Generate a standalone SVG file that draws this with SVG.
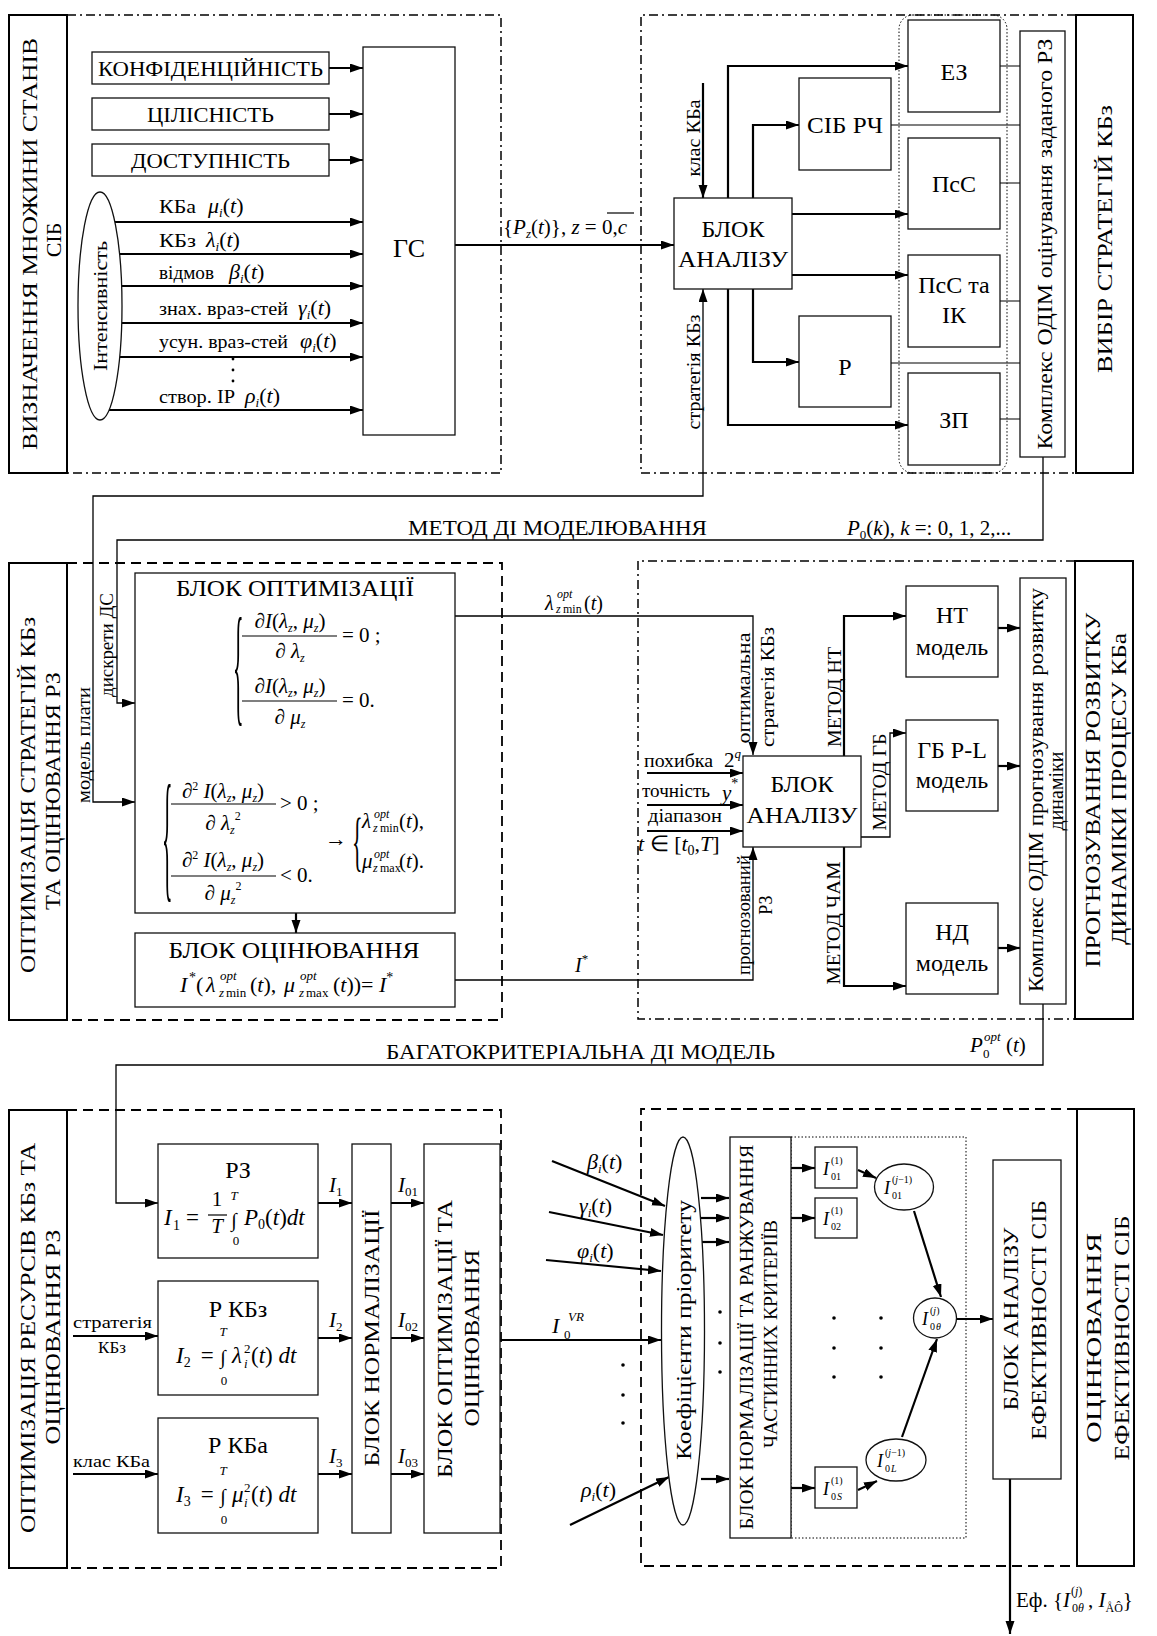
<svg xmlns="http://www.w3.org/2000/svg" width="1157" height="1636" viewBox="0 0 1157 1636">
<defs>
<marker id="ah" markerUnits="userSpaceOnUse" markerWidth="14" markerHeight="10" refX="13" refY="4.5" orient="auto-start-reverse" viewBox="0 0 14 10"><path d="M0,0 L13,4.5 L0,9 z" fill="#000"/></marker>
<style>
text{font-family:"Liberation Serif","Times New Roman",serif;fill:#000}
.it{font-style:italic}
.b{fill:#fff;stroke:#111;stroke-width:1.3}
.tb{fill:#fff;stroke:#000;stroke-width:2}
.dd{fill:none;stroke:#000;stroke-width:1.5;stroke-dasharray:9 4 2 4}
.ds{fill:none;stroke:#000;stroke-width:1.8;stroke-dasharray:10 6}
.dt{fill:none;stroke:#000;stroke-width:1;stroke-dasharray:1.5 2}
.a{fill:none;stroke:#000;stroke-width:2.2;marker-end:url(#ah)}
.at{fill:none;stroke:#000;stroke-width:1.3;marker-end:url(#ah)}
.l{fill:none;stroke:#000;stroke-width:1.2}
.dot{fill:#000}
</style>
</defs>
<rect width="1157" height="1636" fill="#fff"/>

<g id="frames">
<path class="dd" d="M67,15 H501 V473 H67"/>
<path class="dd" d="M1076,15 H641 V473 H1076"/>
<path class="ds" d="M67,563 H502 V1020 H67"/>
<path class="dd" d="M1075,561 H638 V1019 H1075"/>
<path class="ds" d="M67,1110 H501 V1568 H67"/>
<path class="ds" d="M1077,1109 H641 V1566 H1077"/>
<rect class="dt" x="899" y="15" width="108" height="458" rx="14"/>
<rect class="dt" x="791" y="1137" width="175" height="401"/>
</g>

<g id="connectors">
<path class="a" d="M329,68 H363"/>
<path class="a" d="M329,114 H363"/>
<path class="a" d="M329,160 H363"/>
<path class="a" d="M115,222 H363"/>
<path class="a" d="M120,254 H363"/>
<path class="a" d="M122,286 H363"/>
<path class="a" d="M122,323 H363"/>
<path class="a" d="M120,357 H363"/>
<path class="a" d="M109,410 H363"/>
<path class="a" d="M455,245 H674"/>
<path class="a" d="M703,83 V198"/>
<path class="at" style="marker-start:url(#ah)" d="M135,802 H93 V496 H703 V289"/>
<path class="at" d="M1043,457 V540 H117 V703 H135"/>
<path class="a" d="M728,198 V66 H908"/>
<path class="a" d="M753,198 V125 H799"/>
<path class="a" d="M792,214 H908"/>
<path class="a" d="M792,275 H908"/>
<path class="a" d="M753,289 V362 H799"/>
<path class="a" d="M728,289 V425 H908"/>
<path class="l" d="M1000,66 H1020 M891,125 H1020 M1000,183 H1020 M1000,301 H1020 M891,363 H1020 M1000,419 H1020"/>
<path class="at" d="M455,616 H753 V755"/>
<path class="at" d="M455,980 H753 V847"/>
<path class="a" d="M296,913 V933"/>
<path class="a" d="M647,773 H743"/>
<path class="a" d="M647,805 H743"/>
<path class="a" d="M647,831 H743"/>
<path class="a" d="M844,756 V616 H906"/>
<path class="at" d="M861,837 H890 V733 H906"/>
<path class="a" d="M844,847 V986 H906"/>
<path class="a" d="M998,628 H1020"/>
<path class="a" d="M998,766 H1020"/>
<path class="a" d="M998,948 H1020"/>
<path class="at" d="M1043,1004 V1065 H116 V1203 H158"/>
<path class="a" d="M73,1336 H158"/>
<path class="a" d="M73,1474 H158"/>
<path class="a" d="M318,1203 H352"/>
<path class="a" d="M318,1338 H352"/>
<path class="a" d="M318,1474 H352"/>
<path class="a" d="M391,1203 H424"/>
<path class="a" d="M391,1338 H424"/>
<path class="a" d="M391,1474 H424"/>
<path class="a" d="M500,1340 H661"/>
<path class="a" d="M552,1161 L665,1206"/>
<path class="a" d="M549,1212 L663,1235"/>
<path class="a" d="M546,1260 L661,1271"/>
<path class="a" d="M570,1525 L669,1477"/>
<path class="a" d="M701,1198 H729"/>
<path class="a" d="M701,1218 H729"/>
<path class="a" d="M701,1242 H729"/>
<path class="a" d="M701,1479 H729"/>
<path class="a" d="M791,1168 H815"/>
<path class="a" d="M791,1218 H815"/>
<path class="a" d="M791,1488 H815"/>
<path class="a" d="M858,1170 L876,1178"/>
<path class="a" d="M858,1490 L877,1481"/>
<path class="a" d="M914,1211 L941,1297"/>
<path class="a" d="M902,1437 L937,1339"/>
<path class="a" d="M956,1319 H993"/>
<path class="a" d="M1010,1479 V1634"/>
</g>

<g id="n-title-states"><rect class="tb" x="9" y="15" width="58" height="458"/>
<text transform="translate(37,244) rotate(-90)" text-anchor="middle" font-size="22" textLength="412" lengthAdjust="spacingAndGlyphs">ВИЗНАЧЕННЯ МНОЖИНИ СТАНІВ</text>
<text transform="translate(61,240) rotate(-90)" text-anchor="middle" font-size="22">СІБ</text></g>
<g id="n-konf"><rect class="b" x="92" y="52" width="237" height="32"/><text x="210.5" y="76" text-anchor="middle" font-size="22" textLength="225" lengthAdjust="spacingAndGlyphs">КОНФІДЕНЦІЙНІСТЬ</text></g>
<g id="n-cil"><rect class="b" x="92" y="98" width="237" height="32"/><text x="210.5" y="122" text-anchor="middle" font-size="22" textLength="127" lengthAdjust="spacingAndGlyphs">ЦІЛІСНІСТЬ</text></g>
<g id="n-dost"><rect class="b" x="92" y="144" width="237" height="32"/><text x="210.5" y="168" text-anchor="middle" font-size="22" textLength="159" lengthAdjust="spacingAndGlyphs">ДОСТУПНІСТЬ</text></g>
<g id="n-gs"><rect class="b" x="363" y="47" width="92" height="388"/><text x="409" y="257" text-anchor="middle" font-size="26">ГС</text></g>
<g id="n-intens"><ellipse class="b" cx="100" cy="306" rx="22" ry="114"/><text transform="translate(107,306) rotate(-90)" text-anchor="middle" font-size="19" textLength="130" lengthAdjust="spacingAndGlyphs">Інтенсивність</text></g>

<g id="labels-top" font-size="19">
<text x="159" y="213" textLength="37" lengthAdjust="spacingAndGlyphs">КБа</text>
<text x="208" y="213" font-size="22"><tspan class="it">μ</tspan><tspan class="it" font-size="13" dy="4">i</tspan><tspan dy="-4">(</tspan><tspan class="it">t</tspan>)</text>
<text x="159" y="247" textLength="37" lengthAdjust="spacingAndGlyphs">КБз</text>
<text x="206" y="247" font-size="22"><tspan class="it">λ</tspan><tspan class="it" font-size="13" dy="4">i</tspan><tspan dy="-4">(</tspan><tspan class="it">t</tspan>)</text>
<text x="159" y="279" textLength="55" lengthAdjust="spacingAndGlyphs">відмов</text>
<text x="229" y="279" font-size="22"><tspan class="it">β</tspan><tspan class="it" font-size="13" dy="4">i</tspan><tspan dy="-4">(</tspan><tspan class="it">t</tspan>)</text>
<text x="159" y="315" textLength="129" lengthAdjust="spacingAndGlyphs">знах. враз-стей</text>
<text x="298" y="315" font-size="22"><tspan class="it">γ</tspan><tspan class="it" font-size="13" dy="4">i</tspan><tspan dy="-4">(</tspan><tspan class="it">t</tspan>)</text>
<text x="159" y="348" textLength="129" lengthAdjust="spacingAndGlyphs">усун. враз-стей</text>
<text x="300" y="348" font-size="22"><tspan class="it">φ</tspan><tspan class="it" font-size="13" dy="4">i</tspan><tspan dy="-4">(</tspan><tspan class="it">t</tspan>)</text>
<circle class="dot" cx="233" cy="359" r="1.4"/><circle class="dot" cx="233" cy="370" r="1.4"/><circle class="dot" cx="233" cy="381" r="1.4"/>
<text x="159" y="403" textLength="76" lengthAdjust="spacingAndGlyphs">створ. ІР</text>
<text x="245" y="403" font-size="22"><tspan class="it">ρ</tspan><tspan class="it" font-size="13" dy="4">i</tspan><tspan dy="-4">(</tspan><tspan class="it">t</tspan>)</text>
<text x="503" y="234" font-size="21">{<tspan class="it">P</tspan><tspan class="it" font-size="13" dy="4">z</tspan><tspan dy="-4">(</tspan><tspan class="it">t</tspan>)}, <tspan class="it">z</tspan> = 0,<tspan class="it">c</tspan></text>
<line class="l" x1="607" y1="213" x2="634" y2="213"/>
<text transform="translate(700,138) rotate(-90)" text-anchor="middle" font-size="18" textLength="77" lengthAdjust="spacingAndGlyphs">клас КБа</text>
<text transform="translate(700,372) rotate(-90)" text-anchor="middle" font-size="18" textLength="115" lengthAdjust="spacingAndGlyphs">стратегія КБз</text>
</g>

<g id="n-blok1"><rect class="b" x="674" y="198" width="118" height="91"/><text x="733" y="237" text-anchor="middle" font-size="24">БЛОК</text><text x="733" y="267" text-anchor="middle" font-size="24" textLength="110" lengthAdjust="spacingAndGlyphs">АНАЛІЗУ</text></g>
<g id="n-ez"><rect class="b" x="908" y="20" width="92" height="92"/><text x="954" y="80" text-anchor="middle" font-size="24">ЕЗ</text></g>
<g id="n-sibrch"><rect class="b" x="799" y="78" width="92" height="92"/><text x="845" y="133" text-anchor="middle" font-size="24" textLength="76" lengthAdjust="spacingAndGlyphs">СІБ РЧ</text></g>
<g id="n-psc"><rect class="b" x="908" y="138" width="92" height="91"/><text x="954" y="192" text-anchor="middle" font-size="24">ПсС</text></g>
<g id="n-pscik"><rect class="b" x="908" y="255" width="92" height="92"/><text x="954" y="293" text-anchor="middle" font-size="24">ПсС та</text><text x="954" y="323" text-anchor="middle" font-size="24">ІК</text></g>
<g id="n-r"><rect class="b" x="799" y="316" width="92" height="91"/><text x="845" y="375" text-anchor="middle" font-size="24">Р</text></g>
<g id="n-zp"><rect class="b" x="908" y="373" width="92" height="92"/><text x="954" y="428" text-anchor="middle" font-size="24">ЗП</text></g>
<g id="n-kompl1"><rect class="b" x="1020" y="31" width="45" height="426"/><text transform="translate(1052,244) rotate(-90)" text-anchor="middle" font-size="21" textLength="411" lengthAdjust="spacingAndGlyphs">Комплекс ОДІМ оцінування заданого РЗ</text></g>
<g id="n-title-strat"><rect class="tb" x="1076" y="15" width="57" height="458"/><text transform="translate(1112,239) rotate(-90)" text-anchor="middle" font-size="22" textLength="268" lengthAdjust="spacingAndGlyphs">ВИБІР СТРАТЕГІЙ КБз</text></g>

<g id="labels-mid1" font-size="21">
<text x="408" y="535" textLength="299" lengthAdjust="spacingAndGlyphs">МЕТОД ДІ МОДЕЛЮВАННЯ</text>
<text x="847" y="535"><tspan class="it">P</tspan><tspan font-size="13" dy="4">0</tspan><tspan dy="-4">(</tspan><tspan class="it">k</tspan>),  <tspan class="it">k</tspan> =: 0, 1, 2,...</text>
<text transform="translate(113,645) rotate(-90)" text-anchor="middle" font-size="18" textLength="104" lengthAdjust="spacingAndGlyphs">дискрети ДС</text>
<text transform="translate(90,745) rotate(-90)" text-anchor="middle" font-size="18" textLength="116" lengthAdjust="spacingAndGlyphs">модель плати</text>
</g>

<g id="n-title-opt"><rect class="tb" x="9" y="563" width="58" height="457"/>
<text transform="translate(35,795) rotate(-90)" text-anchor="middle" font-size="22" textLength="356" lengthAdjust="spacingAndGlyphs">ОПТИМІЗАЦІЯ СТРАТЕГІЙ КБз</text>
<text transform="translate(60,791) rotate(-90)" text-anchor="middle" font-size="22" textLength="238" lengthAdjust="spacingAndGlyphs">ТА ОЦІНЮВАННЯ РЗ</text></g>

<g id="n-blokopt"><rect class="b" x="135" y="573" width="320" height="340"/>
<text x="295" y="596" text-anchor="middle" font-size="24" textLength="238" lengthAdjust="spacingAndGlyphs">БЛОК ОПТИМІЗАЦІЇ</text>
<text transform="translate(233,708) scale(1,6)" font-size="22">{</text>
<text x="290" y="628" text-anchor="middle" font-size="21"><tspan class="it">∂I</tspan>(<tspan class="it">λ</tspan><tspan class="it" font-size="12" dy="4">z</tspan><tspan dy="-4">, </tspan><tspan class="it">μ</tspan><tspan class="it" font-size="12" dy="4">z</tspan><tspan dy="-4">)</tspan></text>
<line class="l" x1="242" y1="636" x2="337" y2="636"/>
<text x="290" y="658" text-anchor="middle" font-size="21"><tspan class="it">∂ λ</tspan><tspan class="it" font-size="12" dy="4">z</tspan></text>
<text x="342" y="642" font-size="21">= 0 ;</text>
<text x="290" y="693" text-anchor="middle" font-size="21"><tspan class="it">∂I</tspan>(<tspan class="it">λ</tspan><tspan class="it" font-size="12" dy="4">z</tspan><tspan dy="-4">, </tspan><tspan class="it">μ</tspan><tspan class="it" font-size="12" dy="4">z</tspan><tspan dy="-4">)</tspan></text>
<line class="l" x1="242" y1="701" x2="337" y2="701"/>
<text x="290" y="724" text-anchor="middle" font-size="21"><tspan class="it">∂ μ</tspan><tspan class="it" font-size="12" dy="4">z</tspan></text>
<text x="342" y="707" font-size="21">= 0.</text>
<text transform="translate(162,883) scale(1,6.5)" font-size="22">{</text>
<text x="223" y="798" text-anchor="middle" font-size="21"><tspan class="it">∂</tspan><tspan font-size="12" dy="-8">2</tspan><tspan class="it" dy="8"> I</tspan>(<tspan class="it">λ</tspan><tspan class="it" font-size="12" dy="4">z</tspan><tspan dy="-4">, </tspan><tspan class="it">μ</tspan><tspan class="it" font-size="12" dy="4">z</tspan><tspan dy="-4">)</tspan></text>
<line class="l" x1="171" y1="804" x2="276" y2="804"/>
<text x="223" y="830" text-anchor="middle" font-size="21"><tspan class="it">∂ λ</tspan><tspan class="it" font-size="12" dy="4">z</tspan><tspan font-size="12" dy="-14">2</tspan></text>
<text x="280" y="810" font-size="21">&gt; 0 ;</text>
<text x="223" y="867" text-anchor="middle" font-size="21"><tspan class="it">∂</tspan><tspan font-size="12" dy="-8">2</tspan><tspan class="it" dy="8"> I</tspan>(<tspan class="it">λ</tspan><tspan class="it" font-size="12" dy="4">z</tspan><tspan dy="-4">, </tspan><tspan class="it">μ</tspan><tspan class="it" font-size="12" dy="4">z</tspan><tspan dy="-4">)</tspan></text>
<line class="l" x1="171" y1="876" x2="276" y2="876"/>
<text x="223" y="900" text-anchor="middle" font-size="21"><tspan class="it">∂ μ</tspan><tspan class="it" font-size="12" dy="4">z</tspan><tspan font-size="12" dy="-14">2</tspan></text>
<text x="280" y="882" font-size="21">&lt; 0.</text>
<text x="325" y="846" font-size="22">→</text>
<text transform="translate(352,863) scale(1,3)" font-size="22">{</text>
<text font-size="21"><tspan class="it" x="362" y="828">λ</tspan><tspan class="it" font-size="12" x="374" y="818">opt</tspan><tspan class="it" font-size="12" x="373" y="832">z</tspan><tspan font-size="12" x="380" y="832">min</tspan><tspan x="399" y="828">(</tspan><tspan class="it">t</tspan>),</text>
<text font-size="21"><tspan class="it" x="362" y="868">μ</tspan><tspan class="it" font-size="12" x="374" y="858">opt</tspan><tspan class="it" font-size="12" x="373" y="872">z</tspan><tspan font-size="12" x="380" y="872">max</tspan><tspan x="399" y="868">(</tspan><tspan class="it">t</tspan>).</text>
</g>

<g id="n-blokoc"><rect class="b" x="135" y="933" width="320" height="74"/>
<text x="294" y="958" text-anchor="middle" font-size="24" textLength="251" lengthAdjust="spacingAndGlyphs">БЛОК ОЦІНЮВАННЯ</text>
<text font-size="22"><tspan class="it" x="180" y="992">I</tspan><tspan font-size="14" x="189" y="982">*</tspan><tspan x="196" y="992">(</tspan><tspan class="it" x="206" y="992">λ</tspan><tspan class="it" font-size="13" x="220" y="980">opt</tspan><tspan class="it" font-size="13" x="219" y="997">z</tspan><tspan font-size="13" x="226" y="997">min</tspan><tspan x="250" y="992">(</tspan><tspan class="it">t</tspan>),<tspan class="it" x="284" y="992">μ</tspan><tspan class="it" font-size="13" x="300" y="980">opt</tspan><tspan class="it" font-size="13" x="299" y="997">z</tspan><tspan font-size="13" x="306" y="997">max</tspan><tspan x="333" y="992">(</tspan><tspan class="it">t</tspan>))= <tspan class="it">I</tspan><tspan font-size="14" dy="-10">*</tspan></text>
</g>

<g id="labels-mid2" font-size="20">
<text><tspan class="it" x="545" y="610">λ</tspan><tspan class="it" font-size="12" x="557" y="598">opt</tspan><tspan class="it" font-size="12" x="556" y="613">z</tspan><tspan font-size="12" x="563" y="613">min</tspan><tspan x="584" y="610">(</tspan><tspan class="it">t</tspan>)</text>
<text x="575" y="972"><tspan class="it">I</tspan><tspan font-size="13" dy="-9">*</tspan></text>
<text transform="translate(750,688) rotate(-90)" text-anchor="middle" font-size="18" textLength="111" lengthAdjust="spacingAndGlyphs">оптимальна</text>
<text transform="translate(774,687) rotate(-90)" text-anchor="middle" font-size="18" textLength="120" lengthAdjust="spacingAndGlyphs">стратегія КБз</text>
<text transform="translate(841,697) rotate(-90)" text-anchor="middle" font-size="18" textLength="100" lengthAdjust="spacingAndGlyphs">МЕТОД НТ</text>
<text transform="translate(886,782) rotate(-90)" text-anchor="middle" font-size="18" textLength="97" lengthAdjust="spacingAndGlyphs">МЕТОД ГБ</text>
<text transform="translate(840,923) rotate(-90)" text-anchor="middle" font-size="18" textLength="123" lengthAdjust="spacingAndGlyphs">МЕТОД ЧАМ</text>
<text transform="translate(750,915) rotate(-90)" text-anchor="middle" font-size="18" textLength="120" lengthAdjust="spacingAndGlyphs">прогнозований</text>
<text transform="translate(772,905) rotate(-90)" text-anchor="middle" font-size="18">РЗ</text>
<text x="644" y="767" font-size="19" textLength="69" lengthAdjust="spacingAndGlyphs">похибка</text>
<text x="724" y="767" font-size="21">2<tspan class="it" font-size="13" dy="-9">q</tspan></text>
<text x="642" y="797" font-size="19" textLength="68" lengthAdjust="spacingAndGlyphs">точність</text>
<text x="722" y="800" font-size="21"><tspan class="it">y</tspan><tspan font-size="14" dy="-12">*</tspan></text>
<text x="648" y="822" font-size="19" textLength="74" lengthAdjust="spacingAndGlyphs">діапазон</text>
<text x="638" y="851" font-size="22"><tspan class="it">t</tspan> ∈ [<tspan class="it">t</tspan><tspan font-size="14" dy="4">0</tspan><tspan dy="-4">,</tspan><tspan class="it">T</tspan>]</text>
<text x="386" y="1059" font-size="21" textLength="389" lengthAdjust="spacingAndGlyphs">БАГАТОКРИТЕРІАЛЬНА ДІ МОДЕЛЬ</text>
<text font-size="21"><tspan class="it" x="970" y="1052">P</tspan><tspan class="it" font-size="13" x="984" y="1041">opt</tspan><tspan font-size="13" x="983" y="1058">0</tspan><tspan x="1006" y="1052">(</tspan><tspan class="it">t</tspan>)</text>
</g>

<g id="n-blok2"><rect class="b" x="743" y="756" width="118" height="91"/><text x="802" y="792" text-anchor="middle" font-size="24">БЛОК</text><text x="802" y="823" text-anchor="middle" font-size="24" textLength="111" lengthAdjust="spacingAndGlyphs">АНАЛІЗУ</text></g>
<g id="n-nt"><rect class="b" x="906" y="586" width="92" height="91"/><text x="952" y="623" text-anchor="middle" font-size="24">НТ</text><text x="952" y="655" text-anchor="middle" font-size="24">модель</text></g>
<g id="n-gbpl"><rect class="b" x="906" y="720" width="92" height="91"/><text x="952" y="758" text-anchor="middle" font-size="24">ГБ P-L</text><text x="952" y="788" text-anchor="middle" font-size="24">модель</text></g>
<g id="n-nd"><rect class="b" x="906" y="903" width="92" height="91"/><text x="952" y="940" text-anchor="middle" font-size="24">НД</text><text x="952" y="971" text-anchor="middle" font-size="24">модель</text></g>
<g id="n-kompl2"><rect class="b" x="1020" y="578" width="46" height="426"/>
<text transform="translate(1043,790) rotate(-90)" text-anchor="middle" font-size="20" textLength="404" lengthAdjust="spacingAndGlyphs">Комплекс ОДІМ прогнозування розвитку</text>
<text transform="translate(1063,791) rotate(-90)" text-anchor="middle" font-size="20">динаміки</text></g>
<g id="n-title-progn"><rect class="tb" x="1075" y="561" width="58" height="458"/>
<text transform="translate(1100,790) rotate(-90)" text-anchor="middle" font-size="22" textLength="355" lengthAdjust="spacingAndGlyphs">ПРОГНОЗУВАННЯ РОЗВИТКУ</text>
<text transform="translate(1126,789) rotate(-90)" text-anchor="middle" font-size="22" textLength="312" lengthAdjust="spacingAndGlyphs">ДИНАМІКИ ПРОЦЕСУ КБа</text></g>

<g id="n-title-res"><rect class="tb" x="9" y="1110" width="58" height="458"/>
<text transform="translate(35,1338) rotate(-90)" text-anchor="middle" font-size="22" textLength="390" lengthAdjust="spacingAndGlyphs">ОПТИМІЗАЦІЯ РЕСУРСІВ КБз ТА</text>
<text transform="translate(60,1337) rotate(-90)" text-anchor="middle" font-size="22" textLength="215" lengthAdjust="spacingAndGlyphs">ОЦІНЮВАННЯ РЗ</text></g>
<g id="n-rz"><rect class="b" x="158" y="1144" width="160" height="114"/>
<text x="238" y="1178" text-anchor="middle" font-size="24">РЗ</text>
<text font-size="23"><tspan class="it" x="164" y="1225">I</tspan><tspan font-size="14" x="173" y="1230">1</tspan><tspan x="186" y="1225">=</tspan></text>
<text x="217" y="1206" text-anchor="middle" font-size="21">1</text>
<line class="l" x1="208" y1="1215" x2="227" y2="1215"/>
<text x="217" y="1233" text-anchor="middle" font-size="21" class="it">T</text>
<text x="234" y="1200" text-anchor="middle" font-size="13" class="it">T</text>
<text x="234" y="1227" text-anchor="middle" font-size="20">∫</text>
<text x="236" y="1245" text-anchor="middle" font-size="13">0</text>
<text font-size="23"><tspan class="it" x="244" y="1225">P</tspan><tspan font-size="14" dy="4">0</tspan><tspan dy="-4">(</tspan><tspan class="it">t</tspan>)<tspan class="it">dt</tspan></text>
</g>
<g id="n-rkbz"><rect class="b" x="158" y="1281" width="160" height="114"/>
<text x="238" y="1317" text-anchor="middle" font-size="24">Р КБз</text>
<text font-size="23"><tspan class="it" x="176" y="1363">I</tspan><tspan font-size="14" dy="4">2</tspan><tspan dy="-4" x="195"> =</tspan></text>
<text x="223" y="1336" text-anchor="middle" font-size="13" class="it">T</text>
<text x="223" y="1364" text-anchor="middle" font-size="20">∫</text>
<text x="224" y="1385" text-anchor="middle" font-size="13">0</text>
<text font-size="23"><tspan class="it" x="232" y="1363">λ</tspan><tspan class="it" font-size="13" x="244" y="1368">i</tspan><tspan font-size="13" x="244" y="1353">2</tspan><tspan x="251" y="1363">(</tspan><tspan class="it">t</tspan>) <tspan class="it">dt</tspan></text>
</g>
<g id="n-rkba"><rect class="b" x="158" y="1418" width="160" height="115"/>
<text x="238" y="1453" text-anchor="middle" font-size="24">Р КБа</text>
<text font-size="23"><tspan class="it" x="176" y="1502">I</tspan><tspan font-size="14" dy="4">3</tspan><tspan dy="-4" x="195"> =</tspan></text>
<text x="223" y="1475" text-anchor="middle" font-size="13" class="it">T</text>
<text x="223" y="1503" text-anchor="middle" font-size="20">∫</text>
<text x="224" y="1524" text-anchor="middle" font-size="13">0</text>
<text font-size="23"><tspan class="it" x="232" y="1502">μ</tspan><tspan class="it" font-size="13" x="244" y="1507">i</tspan><tspan font-size="13" x="244" y="1492">2</tspan><tspan x="251" y="1502">(</tspan><tspan class="it">t</tspan>) <tspan class="it">dt</tspan></text>
</g>
<g id="n-norm"><rect class="b" x="352" y="1144" width="39" height="389"/><text transform="translate(379,1338) rotate(-90)" text-anchor="middle" font-size="22" textLength="257" lengthAdjust="spacingAndGlyphs">БЛОК НОРМАЛІЗАЦІЇ</text></g>
<g id="n-optoc"><rect class="b" x="424" y="1144" width="76" height="389"/>
<text transform="translate(452,1339) rotate(-90)" text-anchor="middle" font-size="22" textLength="278" lengthAdjust="spacingAndGlyphs">БЛОК ОПТИМІЗАЦІЇ ТА</text>
<text transform="translate(479,1338) rotate(-90)" text-anchor="middle" font-size="22" textLength="177" lengthAdjust="spacingAndGlyphs">ОЦІНЮВАННЯ</text></g>

<g id="labels-bottom" font-size="21">
<text x="73" y="1328" font-size="17" textLength="79" lengthAdjust="spacingAndGlyphs">стратегія</text>
<text x="112" y="1353" font-size="17" text-anchor="middle">КБз</text>
<text x="73" y="1467" font-size="17" textLength="77" lengthAdjust="spacingAndGlyphs">клас КБа</text>
<text x="329" y="1192"><tspan class="it">I</tspan><tspan font-size="13" dy="4">1</tspan></text>
<text x="329" y="1327"><tspan class="it">I</tspan><tspan font-size="13" dy="4">2</tspan></text>
<text x="329" y="1463"><tspan class="it">I</tspan><tspan font-size="13" dy="4">3</tspan></text>
<text x="398" y="1192"><tspan class="it">I</tspan><tspan font-size="13" dy="4">01</tspan></text>
<text x="398" y="1327"><tspan class="it">I</tspan><tspan font-size="13" dy="4">02</tspan></text>
<text x="398" y="1463"><tspan class="it">I</tspan><tspan font-size="13" dy="4">03</tspan></text>
<text font-size="22"><tspan class="it" x="552" y="1333">I</tspan><tspan font-size="13" x="564" y="1339">0</tspan><tspan class="it" font-size="13" x="568" y="1321">VR</tspan></text>
<text x="587" y="1169" font-size="22"><tspan class="it">β</tspan><tspan class="it" font-size="13" dy="4">i</tspan><tspan dy="-4">(</tspan><tspan class="it">t</tspan>)</text>
<text x="579" y="1213" font-size="22"><tspan class="it">γ</tspan><tspan class="it" font-size="13" dy="4">i</tspan><tspan dy="-4">(</tspan><tspan class="it">t</tspan>)</text>
<text x="577" y="1258" font-size="22"><tspan class="it">φ</tspan><tspan class="it" font-size="13" dy="4">i</tspan><tspan dy="-4">(</tspan><tspan class="it">t</tspan>)</text>
<text x="581" y="1497" font-size="22"><tspan class="it">ρ</tspan><tspan class="it" font-size="13" dy="4">i</tspan><tspan dy="-4">(</tspan><tspan class="it">t</tspan>)</text>
<circle class="dot" cx="623" cy="1365" r="1.8"/><circle class="dot" cx="623" cy="1395" r="1.8"/><circle class="dot" cx="623" cy="1423" r="1.8"/>
<circle class="dot" cx="720" cy="1312" r="1.8"/><circle class="dot" cx="720" cy="1343" r="1.8"/><circle class="dot" cx="720" cy="1372" r="1.8"/>
<circle class="dot" cx="834" cy="1318" r="1.8"/><circle class="dot" cx="834" cy="1348" r="1.8"/><circle class="dot" cx="834" cy="1377" r="1.8"/>
<circle class="dot" cx="881" cy="1318" r="1.8"/><circle class="dot" cx="881" cy="1348" r="1.8"/><circle class="dot" cx="881" cy="1377" r="1.8"/>
<text font-size="21"><tspan x="1016" y="1607">Еф.  {</tspan><tspan class="it" x="1063" y="1607">I</tspan><tspan font-size="12" x="1072" y="1612">0</tspan><tspan class="it" font-size="12" x="1078" y="1612">θ</tspan><tspan font-size="12" x="1071" y="1595">(</tspan><tspan class="it" font-size="12">j</tspan><tspan font-size="12">)</tspan><tspan x="1088" y="1607">, </tspan><tspan class="it">I</tspan><tspan font-size="12" dy="5">ÅÔ</tspan><tspan dy="-5">}</tspan></text>
</g>

<g id="n-title-eff"><rect class="tb" x="1077" y="1109" width="57" height="457"/>
<text transform="translate(1101,1338) rotate(-90)" text-anchor="middle" font-size="22" textLength="210" lengthAdjust="spacingAndGlyphs">ОЦІНЮВАННЯ</text>
<text transform="translate(1129,1338) rotate(-90)" text-anchor="middle" font-size="22" textLength="245" lengthAdjust="spacingAndGlyphs">ЕФЕКТИВНОСТІ СІБ</text></g>
<g id="n-koef"><ellipse class="b" cx="683" cy="1331" rx="21.5" ry="194"/><text transform="translate(691,1330) rotate(-90)" text-anchor="middle" font-size="21" textLength="260" lengthAdjust="spacingAndGlyphs">Коефіцієнти пріоритету</text></g>
<g id="n-normrank"><rect class="b" x="730" y="1137" width="61" height="401"/>
<text transform="translate(753,1337) rotate(-90)" text-anchor="middle" font-size="18" textLength="385" lengthAdjust="spacingAndGlyphs">БЛОК НОРМАЛІЗАЦІЇ ТА РАНЖУВАННЯ</text>
<text transform="translate(777,1334) rotate(-90)" text-anchor="middle" font-size="18" textLength="228" lengthAdjust="spacingAndGlyphs">ЧАСТИННИХ КРИТЕРІЇВ</text></g>
<g id="n-i01"><rect class="b" x="815" y="1147" width="42" height="41"/><text font-size="18"><tspan class="it" x="823" y="1175">I</tspan><tspan font-size="10" x="831" y="1180">01</tspan><tspan font-size="10" x="831" y="1164">(1)</tspan></text></g>
<g id="n-i02"><rect class="b" x="815" y="1198" width="42" height="40"/><text font-size="18"><tspan class="it" x="823" y="1225">I</tspan><tspan font-size="10" x="831" y="1230">02</tspan><tspan font-size="10" x="831" y="1214">(1)</tspan></text></g>
<g id="n-i0s"><rect class="b" x="815" y="1467" width="42" height="41"/><text font-size="18"><tspan class="it" x="823" y="1495">I</tspan><tspan font-size="10" x="831" y="1500">0</tspan><tspan class="it" font-size="10" x="837" y="1500">S</tspan><tspan font-size="10" x="831" y="1484">(1)</tspan></text></g>
<g id="n-i01j"><ellipse class="b" cx="904" cy="1187" rx="29.5" ry="23"/><text font-size="18"><tspan class="it" x="884" y="1194">I</tspan><tspan font-size="10" x="892" y="1199">01</tspan><tspan font-size="10" x="892" y="1183">(</tspan><tspan class="it" font-size="10">j</tspan><tspan font-size="10">−1)</tspan></text></g>
<g id="n-i0L"><ellipse class="b" cx="896" cy="1460" rx="30" ry="21"/><text font-size="18"><tspan class="it" x="877" y="1467">I</tspan><tspan font-size="10" x="885" y="1472">0</tspan><tspan class="it" font-size="10" x="891" y="1472">L</tspan><tspan font-size="10" x="885" y="1456">(</tspan><tspan class="it" font-size="10">j</tspan><tspan font-size="10">−1)</tspan></text></g>
<g id="n-i0theta"><ellipse class="b" cx="935" cy="1318" rx="21.5" ry="20"/><text font-size="18"><tspan class="it" x="922" y="1325">I</tspan><tspan font-size="10" x="930" y="1330">0</tspan><tspan class="it" font-size="10" x="936" y="1330">θ</tspan><tspan font-size="10" x="930" y="1314">(</tspan><tspan class="it" font-size="10">j</tspan><tspan font-size="10">)</tspan></text></g>
<g id="n-blokef"><rect class="b" x="993" y="1160" width="68" height="319"/>
<text transform="translate(1018,1319) rotate(-90)" text-anchor="middle" font-size="22" textLength="183" lengthAdjust="spacingAndGlyphs">БЛОК АНАЛІЗУ</text>
<text transform="translate(1046,1320) rotate(-90)" text-anchor="middle" font-size="22" textLength="240" lengthAdjust="spacingAndGlyphs">ЕФЕКТИВНОСТІ СІБ</text></g>
</svg>
